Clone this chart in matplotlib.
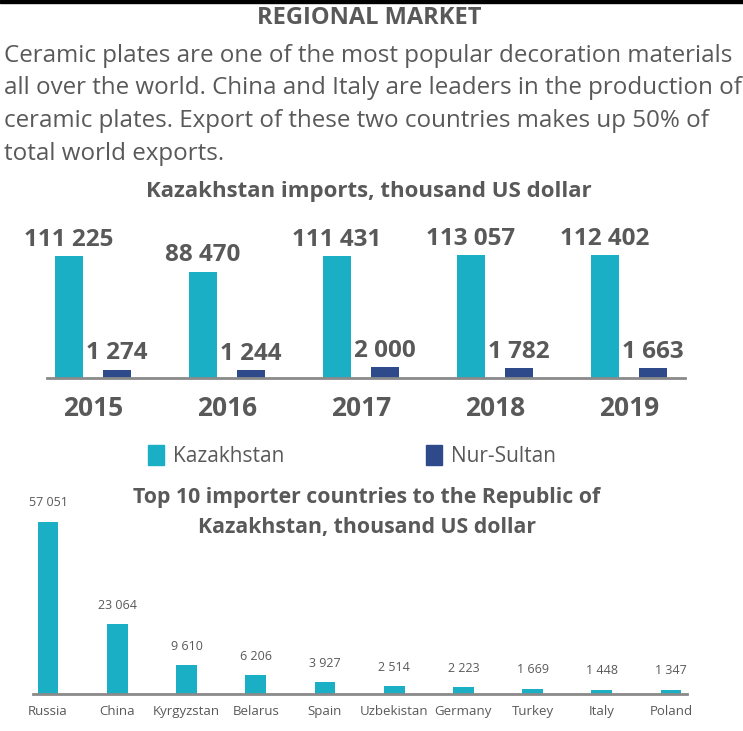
import numpy as np
import matplotlib
matplotlib.use('Agg')
import matplotlib.pyplot as plt
from matplotlib.patches import Patch

##################################################################################
# Data
##################################################################################
YEARS = ['2015', '2016', '2017', '2018', '2019']
KAZ = [111225, 88470, 111431, 113057, 112402]
NUR = [1274, 1244, 2000, 1782, 1663]

COUNTRIES = ['Russia', 'China', 'Kyrgyzstan', 'Belarus', 'Spain',
             'Uzbekistan', 'Germany', 'Turkey', 'Italy', 'Poland']
IMPORTS = [57051, 23064, 9610, 6206, 3927, 2514, 2223, 1669, 1448, 1347]

PARAGRAPH = [
    'Ceramic plates are one of the most popular decoration materials',
    'all over the world. China and Italy are leaders in the production of',
    'ceramic plates. Export of these two countries makes up 50% of',
    'total world exports.',
]

TEAL = '#1aafc4'
NAVY = '#2e4a8a'
GREY = '#595959'
FONT = ['Liberation Sans Narrow', 'Open Sans', 'DejaVu Sans']


def fmt(v):
    return '{:,}'.format(v).replace(',', ' ')


def fy(px):
    # pixel row from top -> figure fraction
    return 1 - px / 731.


##################################################################################
# Figure and header text
##################################################################################
fig = plt.figure(figsize=(7.43, 7.31), dpi=100)
fig.patches.append(plt.Rectangle((0, fy(3)), 1, 3 / 731., color='black',
                                 transform=fig.transFigure))

fig.text(0.497, fy(18), 'REGIONAL MARKET', ha='center', va='center',
         fontsize=17, fontweight='bold', color=GREY, family=FONT)

for i, line in enumerate(PARAGRAPH):
    fig.text(0.006, fy(56 + 32.5 * i), line, ha='left', va='center',
             fontsize=17.4, color=GREY, family=FONT)

fig.text(0.497, fy(192), 'Kazakhstan imports, thousand US dollar',
         ha='center', va='center', fontsize=16, fontweight='bold',
         color=GREY, family=FONT)

##################################################################################
# Top chart
##################################################################################
ax0 = fig.add_axes([47 / 743., fy(378), 638 / 743., 160 / 731.])

fwd = lambda v: np.power(np.clip(v, 0, None), 0.6)
inv = lambda v: np.power(np.clip(v, 0, None), 1 / 0.6)
ax0.set_yscale('function', functions=(fwd, inv))

x = np.arange(len(YEARS))
b_kaz = ax0.bar(x - 0.18, KAZ, width=0.21, color=TEAL)
b_nur = ax0.bar(x + 0.18, NUR, width=0.21, color=NAVY)
ax0.set_xlim(-0.343, 4.418)
ax0.set_ylim(0, 174800)

for bars, vals in [(b_kaz, KAZ), (b_nur, NUR)]:
    for b, v in zip(bars, vals):
        ax0.annotate(fmt(v), (b.get_x() + b.get_width() / 2, v),
                     xytext=(0, 3), textcoords='offset points',
                     ha='center', va='bottom', fontsize=17.5,
                     fontweight='bold', color=GREY, family=FONT)

ax0.set_xticks(x)
ax0.set_xticklabels(YEARS, fontsize=19, fontweight='bold', color=GREY,
                    family=FONT)
ax0.tick_params(axis='x', length=0, pad=12)
ax0.set_yticks([])
for s in ['top', 'right', 'left']:
    ax0.spines[s].set_visible(False)
ax0.spines['bottom'].set_color('#8a8a8a')
ax0.spines['bottom'].set_linewidth(2)
ax0.patch.set_visible(False)

handles = [Patch(color=TEAL), Patch(color=NAVY)]
leg = fig.legend(handles, ['Kazakhstan', 'Nur-Sultan'], ncol=2,
                 loc='center', bbox_to_anchor=(0.474, fy(456)),
                 frameon=False, handlelength=0.75, handleheight=1.1,
                 handletextpad=0.45, columnspacing=6.8,
                 prop={'family': FONT, 'size': 15})
for t in leg.get_texts():
    t.set_color(GREY)

##################################################################################
# Bottom chart
##################################################################################
fig.text(0.494, fy(497), 'Top 10 importer countries to the Republic of',
         ha='center', va='center', fontsize=15.3, fontweight='bold',
         color=GREY, family=FONT)
fig.text(0.494, fy(527), 'Kazakhstan, thousand US dollar',
         ha='center', va='center', fontsize=15.3, fontweight='bold',
         color=GREY, family=FONT)

ax1 = fig.add_axes([33 / 743., fy(694), 654 / 743., 204 / 731.])
xc = np.arange(len(COUNTRIES))
bars = ax1.bar(xc, IMPORTS, width=0.30, color=TEAL)
ax1.set_xlim(-0.217, 9.23)
ax1.set_ylim(0, 67665)

for b, v in zip(bars, IMPORTS):
    ax1.annotate(fmt(v), (b.get_x() + b.get_width() / 2, v),
                 xytext=(0, 9), textcoords='offset points',
                 ha='center', va='bottom', fontsize=9,
                 color=GREY, family=FONT)

ax1.set_xticks(xc)
ax1.set_xticklabels(COUNTRIES, fontsize=9.5, color=GREY, family=FONT)
ax1.tick_params(axis='x', length=0, pad=8)
ax1.set_yticks([])
for s in ['top', 'right', 'left']:
    ax1.spines[s].set_visible(False)
ax1.spines['bottom'].set_color('#8a8a8a')
ax1.spines['bottom'].set_linewidth(2)
ax1.patch.set_visible(False)

fig.savefig('out.png', dpi=100)
